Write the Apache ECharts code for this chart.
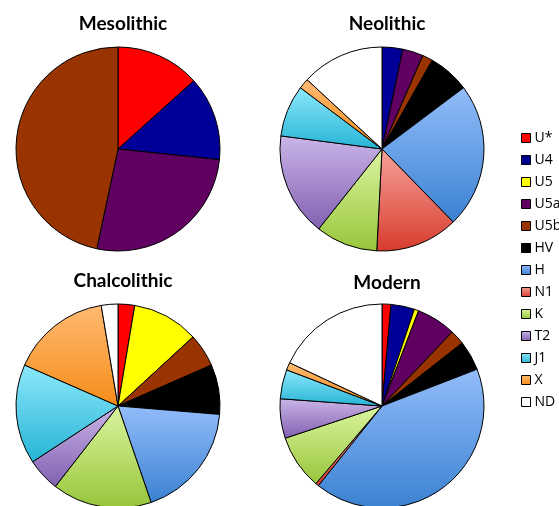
<!DOCTYPE html>
<html>
<head>
<meta charset="utf-8">
<script src="https://cdn.jsdelivr.net/npm/echarts@6/dist/echarts.min.js"></script>
<style>
html,body{margin:0;padding:0;background:#fff;}
#c{width:559px;height:506px;}
</style>
</head>
<body>
<div id="c"></div>
<script>
// Haplogroup categories (legend order)
const categories = ['U*','U4','U5','U5a','U5b','HV','H','N1','K','T2','J1','X','ND'];
// Counts / shares per period, aligned with categories (0 = absent)
const mesolithic   = [2, 2, 0, 4, 7, 0, 0, 0, 0, 0, 0, 0, 0];
const neolithic    = [0, 2, 0, 2, 1, 4, 14, 8, 6, 10, 5, 1, 8];
const chalcolithic = [1, 0, 4, 0, 2, 3, 7, 0, 6, 2, 6, 6, 1];
const modern       = [1.4, 3.7, 0.7, 6.2, 2.3, 4.7, 41.3, 0.5, 8.6, 6.2, 4.6, 1.2, 17.9];
const periods = ['Mesolithic','Neolithic','Chalcolithic','Modern'];

function grad(top, bottom){
  return {type:'linear', x:0, y:0, x2:0, y2:1,
    colorStops:[{offset:0,color:top},{offset:1,color:bottom}]};
}
const colors = {
  'U*':'#FF0000','U4':'#000099','U5':'#FFFF00','U5a':'#600060','U5b':'#993300',
  'HV':'#000000','H':grad('#93BCFA','#3A82D2'),'N1':grad('#F6A29B','#D73C2C'),
  'K':grad('#DAF5A0','#98C53A'),'T2':grad('#CBB5E8','#8060B0'),
  'J1':grad('#8CE8FA','#26B4D6'),'X':grad('#FFBA72','#F58C18'),'ND':'#FFFFFF'
};

const values = [mesolithic, neolithic, chalcolithic, modern];
const centers = [[118,149],[382,149],[118,406],[382,406]];
const titlePos = [[118,9],[382,9],[118,266],[382,268]];

const series = values.map((vals, i) => ({
  type:'pie', name: periods[i], center: centers[i], radius: 102,
  startAngle: 90, clockwise: true, animation:false,
  label:{show:false}, labelLine:{show:false},
  emphasis:{disabled:true}, silent:true,
  itemStyle:{borderColor:'#000', borderWidth:1},
  data: categories.map((c, k) => ({name:c, value:vals[k], itemStyle:{color:colors[c]}}))
                  .filter(d => d.value > 0)
}));

const chart = echarts.init(document.getElementById('c'));
chart.setOption({
  backgroundColor:'#fff',
  animation:false,
  title: periods.map((p, i) => ({
    text:p, left: titlePos[i][0], top: titlePos[i][1], textAlign:'center',
    textStyle:{fontFamily:'Lato', fontWeight:'bold', fontSize:19, color:'#000'}
  })),
  legend:{
    orient:'vertical', left:516, top:126, data:categories,
    icon:'rect', itemWidth:9, itemHeight:9, itemGap:8,
    selectedMode:false,
    textStyle:{fontFamily:'Open Sans', fontSize:14, color:'#000', padding:[0,0,0,-1], lineHeight:14},
    itemStyle:{borderColor:'#000', borderWidth:1}
  },
  series: series
});
</script>
</body>
</html>
